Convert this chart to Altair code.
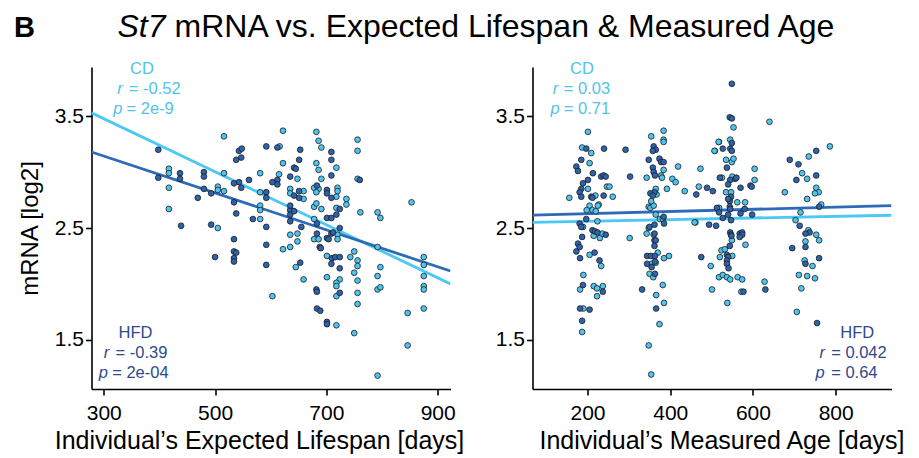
import altair as alt
import pandas as pd

FONT = "Liberation Sans"
CD_COL = "#4EC4F0"
HFD_COL = "#2C63AD"
LINE_CD = "#4BC8F4"
LINE_HFD = "#2D6AB7"
CD_TXT = "#52C3EE"
HFD_TXT = "#2F4A8C"

# ---------------- Panel 1: expected lifespan (days) vs mRNA (log2) ----------------
ls_cd = [(516,3.32),(616,3.23),(417,3.03),(417,2.99),(516,2.99),(581,2.99),(417,2.86),(505,2.87),(505,2.84),(516,2.83),
         (581,2.82),(581,2.70),(581,2.66),(417,2.67),(581,2.58),(505,2.50),(603,1.89),
         (622,3.37),(682,3.36),(686,3.28),(691,3.22),(756,3.29),(756,3.19),(622,3.08),(682,3.08),(718,3.04),(686,3.02),
         (756,2.94),(615,2.98),(648,2.94),(691,2.94),(635,2.85),(635,2.81),(659,2.83),(659,2.76),(678,2.86),(686,2.85),
         (682,2.82),(720,2.86),(720,2.83),(718,2.78),(736,2.76),(736,2.71),(678,2.69),(682,2.72),(691,2.67),(718,2.68),
         (761,2.64),(792,2.64),(797,2.59),(853,2.73),
         (678,2.58),(635,2.44),(648,2.45),(648,2.38),(635,2.33),(622,2.31),(678,2.40),(686,2.40),(720,2.44),(720,2.40),
         (701,2.25),(750,2.29),(743,2.24),(756,2.21),(756,2.16),(750,2.10),(756,2.03),(756,1.92),(756,1.82),(701,2.06),
         (724,2.04),(718,2.01),(718,1.98),(718,1.89),(659,2.04),(645,2.15),(718,1.63),(750,1.56),(792,2.33),(792,2.07),
         (797,2.15),(792,1.95),(797,1.97),(792,1.18),(846,1.74),(846,1.45),(875,2.24),(875,2.17),(875,2.07),(875,1.98),
         (875,1.95),(875,1.78)]
ls_hfd = [(398,3.20),(543,3.19),(548,3.21),(538,3.11),(547,3.13),(592,3.23),(398,2.95),(437,2.99),(437,2.94),(480,3.00),
          (480,2.96),(561,2.93),(534,2.90),(543,2.91),(547,2.86),(592,2.82),(592,2.77),(480,2.85),(493,2.81),(469,2.77),
          (534,2.73),(538,2.63),(568,2.58),(592,2.51),(439,2.52),(493,2.53),(534,2.40),(534,2.29),(538,2.28),(534,2.23),
          (534,2.20),(500,2.24),(592,2.35),(592,2.17),
          (612,3.22),(653,3.20),(709,3.18),(709,3.11),(651,3.11),(642,3.04),(645,3.03),(709,2.97),(760,2.93),(635,2.96),
          (612,2.93),(612,2.89),(603,2.91),(651,2.83),(642,2.79),(651,2.77),(683,2.88),(701,2.84),(701,2.81),(709,2.77),
          (724,2.67),(701,2.59),(709,2.59),(718,2.62),(635,2.66),(635,2.62),
          (635,2.70),(635,2.56),(642,2.65),(683,2.54),(655,2.51),(683,2.45),(688,2.33),(690,2.32),(701,2.41),(704,2.40),
          (709,2.45),(712,2.46),(724,2.50),(710,2.23),(716,2.24),(724,2.24),(709,2.18),(724,2.14),(653,2.19),(724,1.92),
          (682,1.95),(683,1.93),(683,1.78),(689,1.76),(701,1.66),(701,1.64)]
ls_fit_x = [278, 923]
ls_fit_cd = [3.53, 2.00]
ls_fit_hfd = [3.18, 2.115]
ls_stats = {"CD": ("-0.52", "2e-9"), "HFD": ("-0.39", "2e-04")}

# ---------------- Panel 2: measured age (days) vs mRNA (log2) ----------------
age_cd = [(201,3.36),(187,3.22),(209,3.17),(205,3.08),(201,2.85),(156,2.77),(219,2.79),(227,2.71),(247,2.87),(253,2.87),
          (261,2.78),(205,2.70),(198,2.66),(212,2.66),(225,2.70),(220,2.65),(224,2.56),(302,2.41),
          (384,3.37),(354,3.32),(384,3.29),(384,3.27),(508,3.19),(518,3.27),(419,3.05),(384,3.02),(378,2.97),(380,2.95),
          (343,2.95),(405,2.94),(413,2.91),(473,3.03),(392,2.85),(435,2.83),(469,2.87),(348,2.69),(352,2.68),(360,2.70),
          (365,2.62),(375,2.58),(382,2.58),(461,2.55),(360,2.44),(365,2.85),(367,2.80),(354,2.74),
          (189,2.51),(215,2.43),(230,2.41),(236,2.45),(205,2.26),(233,2.16),(190,2.08),(182,1.95),(215,1.98),(223,1.96),
          (237,1.98),(223,1.89),(190,1.78),(187,1.57),(348,2.50),(343,2.45),(370,2.28),(385,2.23),(397,2.25),(355,2.18),
          (365,2.19),(350,2.09),(359,2.06),(382,1.99),(366,1.90),(385,1.83),(374,1.64),(348,1.45),(354,1.19),(459,2.55),
          (498,2.16),(501,1.95),(518,2.06),
          (553,3.40),(640,3.45),(517,3.27),(545,3.29),(507,3.19),(535,3.11),(549,3.09),(553,3.12),(604,3.03),(735,3.14),
          (786,3.23),(604,2.93),(525,2.95),(550,2.96),(535,2.82),(547,2.82),(562,2.73),(581,2.73),(518,2.68),(677,2.82),
          (719,2.99),(731,2.94),(753,2.86),(759,2.82),(750,2.81),(731,2.76),(765,2.71),(715,2.64),(703,2.57),(734,2.48),
          (753,2.44),
          (549,2.39),(582,2.35),(524,2.30),(532,2.31),(520,2.24),(550,2.25),(527,2.08),(537,2.06),(545,2.04),(563,2.06),
          (574,2.04),(572,1.93),(628,2.02),(538,1.83),(760,2.39),(727,2.38),(725,2.21),(744,2.16),(711,2.08),(731,2.07),
          (750,2.05),(717,1.96),(706,1.75)]
age_hfd = [(197,3.21),(240,3.21),(185,3.11),(173,3.05),(177,3.01),(213,2.99),(233,2.96),(239,2.97),(244,2.96),(201,2.93),
           (189,2.90),(185,2.85),(181,2.82),(185,2.78),(209,2.78),(212,2.77),(239,2.79),(197,2.58),(181,2.54),(185,2.51),
           (212,2.48),(218,2.47),(224,2.46),(244,2.44),(187,2.42),(292,3.20),(303,2.96),
           (360,3.23),(365,3.20),(358,3.19),(374,3.12),(378,3.09),(384,3.09),(348,3.11),(358,3.04),(360,3.00),(363,2.97),
           (362,2.82),(352,2.81),(358,2.79),(463,2.80),(489,2.86),(503,2.83),(513,2.68),(518,2.64),(494,2.53),(511,2.52),
           (350,2.51),(362,2.53),(385,2.54),(384,2.60),
           (177,2.36),(181,2.33),(173,2.29),(182,2.23),(217,2.28),(229,2.21),(189,1.99),(237,1.93),(182,1.78),(205,1.77),
           (187,1.67),(362,2.45),(362,2.39),(365,2.39),(362,2.34),(344,2.25),(353,2.25),(363,2.25),(344,2.18),(355,2.15),
           (363,2.20),(363,2.09),(332,1.95),(366,1.78),(475,2.24),
           (549,3.79),(544,3.49),(549,3.48),(549,3.26),(527,3.21),(545,3.21),(549,3.19),(537,3.04),(689,3.11),(710,3.07),
           (753,3.19),(520,2.95),(557,2.94),(545,2.93),(560,2.95),(540,2.89),(570,2.86),(594,2.88),(597,2.87),(547,2.78),
           (544,2.74),(540,2.76),(544,2.69),(545,2.67),(580,2.67),(570,2.63),(598,2.62),(540,2.62),(527,2.59),(547,2.57),
           (545,2.46),(547,2.44),(568,2.45),(574,2.46),(705,2.93),(753,2.97),(760,2.69),(713,2.52),(737,2.46),(727,2.45),
           (548,2.43),(574,2.44),(568,2.42),(544,2.34),(537,2.26),(540,2.24),(537,2.21),(537,2.18),(541,2.14),(577,1.93),
           (630,1.95),(695,2.32),(760,2.23),(727,2.33),(727,2.18),(755,1.65)]
age_fit_x = [67, 935]
age_fit_cd = [2.551, 2.614]
age_fit_hfd = [2.616, 2.700]
age_stats = {"CD": ("0.03", "0.71"), "HFD": ("0.042", "0.64")}

y_domain = [1.06, 3.94]
y_ticks = [1.5, 2.5, 3.5]
ls_domain = [278, 923]
ls_ticks = [300, 500, 700, 900]
age_domain = [67, 935]
age_ticks = [200, 400, 600, 800]

W, H = 359, 322
ANN = 16.5


def pts_df(pairs):
    return pd.DataFrame({"x": [p[0] for p in pairs], "y": [p[1] for p in pairs]})


def label(txt, x, y, color, size, align="left", style="normal", weight="normal"):
    return alt.Chart(pd.DataFrame({"t": [txt]})).mark_text(
        align=align, baseline="alphabetic", font=FONT, fontSize=size,
        fontStyle=style, fontWeight=weight, color=color
    ).encode(x=alt.value(x), y=alt.value(y), text="t:N")


def stat_block(name, r, p, color, cx, y0, rx, rex, px, pex):
    return [
        label(name, cx, y0, color, ANN, align="center"),
        label("r", rx, y0 + 20, color, ANN, style="italic"),
        label("= " + r, rex, y0 + 20, color, ANN),
        label("p", px, y0 + 39.5, color, ANN, style="italic"),
        label("= " + p, pex, y0 + 39.5, color, ANN),
    ]


def panel(cd, hfd, fx, fcd, fhfd, xdom, xticks, xtitle, title_x, ytitle, extra):
    xs = alt.Scale(domain=xdom, nice=False, zero=False)
    ys = alt.Scale(domain=y_domain, nice=False, zero=False)
    xax = alt.Axis(values=xticks, format="d", title=xtitle, titleX=title_x)
    yax = alt.Axis(values=y_ticks, format=".1f", title=ytitle)
    X = alt.X("x:Q", scale=xs, axis=xax)
    Y = alt.Y("y:Q", scale=ys, axis=yax)
    line_cd = alt.Chart(pd.DataFrame({"x": fx, "y": fcd})).mark_line(
        color=LINE_CD, strokeWidth=2.8, clip=True).encode(x=X, y=Y)
    line_hfd = alt.Chart(pd.DataFrame({"x": fx, "y": fhfd})).mark_line(
        color=LINE_HFD, strokeWidth=2.8, clip=True).encode(x=X, y=Y)
    p_cd = alt.Chart(pts_df(cd)).mark_circle(
        size=33, opacity=1, color=CD_COL, stroke="#1d1d1d", strokeWidth=0.8).encode(x=X, y=Y)
    p_hfd = alt.Chart(pts_df(hfd)).mark_circle(
        size=33, opacity=1, color=HFD_COL, stroke="#1d1d1d", strokeWidth=0.8).encode(x=X, y=Y)
    return alt.layer(line_cd, line_hfd, p_cd, p_hfd, *extra).properties(width=W, height=H)


left_extra = (
    stat_block("CD", *ls_stats["CD"], CD_TXT, 50.5, 7, 25.7, 37.3, 21.7, 35)
    + stat_block("HFD", *ls_stats["HFD"], HFD_TXT, 44, 271, 12.3, 24, 7.3, 20.7)
    + [
        label("B", -77.5, -30, "black", 29, weight="bold"),
        label("St7", 26, -30, "black", 32, style="italic"),
        label("mRNA vs. Expected Lifespan & Measured Age", 83, -30, "black", 32),
    ]
)
right_extra = (
    stat_block("CD", *age_stats["CD"], CD_TXT, 49.5, 7, 20.3, 31.3, 18, 31.3)
    + stat_block("HFD", *age_stats["HFD"], HFD_TXT, 324.7, 271, 287, 298.7, 283, 298.7)
)

left = panel(ls_cd, ls_hfd, ls_fit_x, ls_fit_cd, ls_fit_hfd, ls_domain, ls_ticks,
             "Individual\u2019s Expected Lifespan [days]", 167.5, "mRNA [log2]", left_extra)
right = panel(age_cd, age_hfd, age_fit_x, age_fit_cd, age_fit_hfd, age_domain, age_ticks,
              "Individual\u2019s Measured Age [days]", 189, None, right_extra)

chart = alt.hconcat(left, right, spacing=82, bounds="flush").properties(
    padding={"left": 13.5, "top": 11, "right": 4, "bottom": 4}
).configure_view(stroke=None).configure_axis(
    domainColor="black", domainWidth=1.6, tickColor="black", tickWidth=1.6, tickSize=6,
    labelFont=FONT, labelFontSize=21, labelColor="black",
    titleFont=FONT, titleFontSize=24, titleFontWeight="normal", titleColor="black", grid=False
).configure_axisX(labelPadding=7, titlePadding=5, titleFontSize=25).configure_axisY(labelPadding=2, titlePadding=12)

chart.save("out.html", embed_options={"renderer": "svg", "actions": False})
